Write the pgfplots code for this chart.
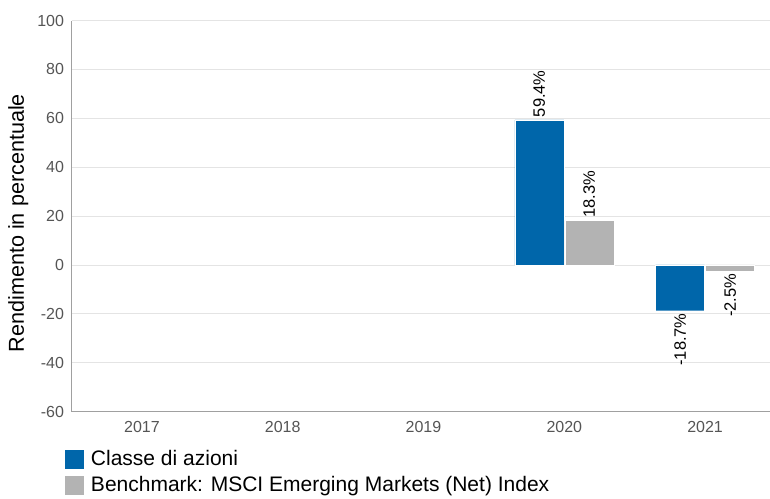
\documentclass[border=0pt]{standalone}
\usepackage{fontspec}
\setmainfont{Liberation Sans}
\usepackage{graphicx}
\usepackage{pgfplots}
\pgfplotsset{compat=1.18}
\definecolor{bblue}{RGB}{0,102,170}
\definecolor{bgray}{RGB}{179,179,179}
\definecolor{gridc}{RGB}{228,228,228}
\definecolor{axc}{RGB}{160,160,160}
\definecolor{tickc}{RGB}{85,85,85}
\begin{document}
\begin{tikzpicture}
\useasboundingbox (0,0) rectangle (770pt,498pt);
\begin{axis}[
  at={(71.5pt,86.4pt)}, anchor=south west,
  scale only axis, width=704pt, height=391pt,
  xmin=-0.5, xmax=4.5, ymin=-60, ymax=100,
  xtick={0,1,2,3,4}, xticklabels={2017,2018,2019,2020,2021},
  ytick={-60,-40,-20,0,20,40,60,80,100},
  ymajorgrids, grid style={gridc, line width=0.8pt},
  axis x line*=bottom, axis y line*=left,
  axis line style={axc, line width=0.8pt, -},
  major tick length=0pt,
  tick label style={font=\fontsize{16}{19}\selectfont, text=tickc},
  xticklabel style={yshift=-6pt},
  yticklabel style={xshift=-4pt},
  /pgf/number format/assume math mode=true,
  ylabel={Rendimento in percentuale},
  ylabel style={at={(ticklabel cs:0.482)}},
  ylabel shift=2pt,
  label style={font=\fontsize{21.6}{25}\selectfont},
  ybar=1pt, bar width=49pt,
  nodes near coords={\rotatebox{90}{\pgfmathprintnumber[fixed,precision=1,fixed zerofill]{\pgfplotspointmeta}\%}},
  every node near coord/.append style={font=\fontsize{16.5}{19}\selectfont, text=black, inner sep=2.5pt},
  legend image code/.code={\fill[#1] (0pt,-10pt) rectangle (20pt,10pt);},
  legend style={at={(rel axis cs:0,0)}, anchor=north west, xshift=-8pt, yshift=-37pt,
    draw=none, fill=none, inner sep=0pt, font=\fontsize{21}{25}\selectfont,
    nodes={inner sep=0pt}, row sep=5.5pt, column sep=7pt},
  legend cell align=left,
]
\addplot[fill=bblue, draw=white, line width=0.3pt] coordinates {(3,59.4) (4,-18.7)};
\addlegendentry{Classe di azioni}
\addplot[fill=bgray, draw=white, line width=0.3pt] coordinates {(3,18.3) (4,-2.5)};
\addlegendentry{Benchmark: MSCI Emerging Markets (Net) Index}
\end{axis}
\end{tikzpicture}
\end{document}
